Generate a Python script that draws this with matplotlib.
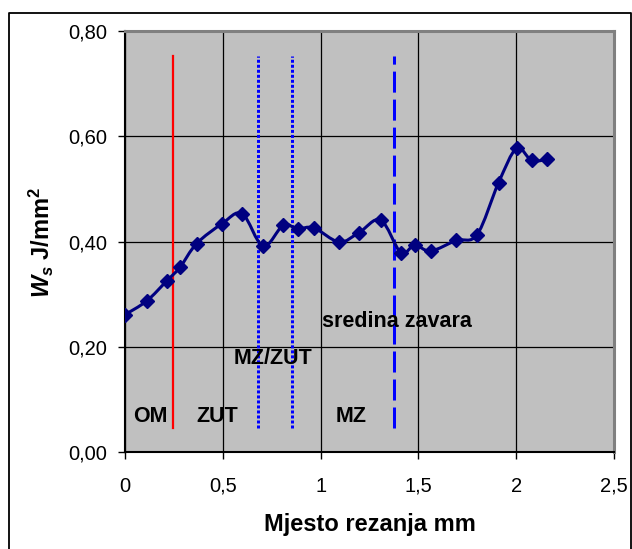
import matplotlib
matplotlib.use("Agg")
import matplotlib.pyplot as plt
from matplotlib.path import Path
from matplotlib.patches import PathPatch
from matplotlib.lines import Line2D
import numpy as np

plt.rcParams['font.family'] = ['Liberation Sans', 'DejaVu Sans']
plt.rcParams['mathtext.fontset'] = 'custom'
plt.rcParams['mathtext.it'] = 'Liberation Sans:italic:bold'
plt.rcParams['mathtext.rm'] = 'Liberation Sans:bold'
plt.rcParams['mathtext.bf'] = 'Liberation Sans:bold'

# data
x_pos = [0.0, 0.111, 0.213, 0.281, 0.366, 0.497, 0.599, 0.706, 0.809, 0.882, 0.965,
         1.095, 1.197, 1.307, 1.410, 1.481, 1.563, 1.694, 1.800, 1.910, 2.002, 2.079, 2.160]
ws = [0.261, 0.287, 0.325, 0.351, 0.396, 0.434, 0.453, 0.391, 0.431, 0.424, 0.426,
      0.399, 0.417, 0.441, 0.379, 0.393, 0.382, 0.402, 0.413, 0.512, 0.577, 0.554, 0.556]

boundary_om_zut = 0.245
boundary_mz_zut = [0.681, 0.855]
boundary_center = 1.376
line_ymin, line_ymax = 0.045, 0.753

zone_labels = ["OM", "ZUT", "MZ", "MZ/ZUT", "sredina zavara"]
zone_label_x = [0.128, 0.47, 1.158, 0.759, 1.389]
zone_label_y = [0.068, 0.068, 0.068, 0.178, 0.248]

x_ticks = [0, 0.5, 1, 1.5, 2, 2.5]
x_tick_labels = ["0", "0,5", "1", "1,5", "2", "2,5"]
y_ticks = [0.0, 0.2, 0.4, 0.6, 0.8]
y_tick_labels = ["0,00", "0,20", "0,40", "0,60", "0,80"]

W, H = 632, 549
fig = plt.figure(figsize=(W / 100, H / 100), dpi=100)
ax = fig.add_axes([125 / W, 1 - 452 / H, (614 - 125) / W, (452 - 31) / H])

# outer border (left, top, right; bottom runs off the canvas)
fig.add_artist(Line2D([8.5 / W, 8.5 / W, 630.5 / W, 630.5 / W],
                      [-0.01, 1 - 12.5 / H, 1 - 12.5 / H, -0.01],
                      transform=fig.transFigure, color='black', linewidth=1.3))

ax.set_facecolor('#C0C0C0')
ax.set_xlim(0, 2.5)
ax.set_ylim(0, 0.8)
ax.set_xticks(x_ticks)
ax.set_xticklabels(x_tick_labels, fontsize=14.5)
ax.set_yticks(y_ticks)
ax.set_yticklabels(y_tick_labels, fontsize=14.5)
ax.tick_params(axis='y', direction='out', length=5, width=1, color='black', pad=8)
ax.tick_params(axis='x', direction='out', length=5, width=1, color='black', pad=13)
ax.grid(True, color='black', linewidth=0.9)
ax.set_axisbelow(True)
for s in ['top', 'right']:
    ax.spines[s].set_color('#808080')
    ax.spines[s].set_linewidth(2.2)
for s in ['left', 'bottom']:
    ax.spines[s].set_color('black')
    ax.spines[s].set_linewidth(1.5)

# smoothed line (Bezier through the data points)
xs = np.array(x_pos)
ys = np.array(ws)
verts = [(xs[0], ys[0])]
codes = [Path.MOVETO]
n = len(xs)
for i in range(n - 1):
    p0 = np.array([xs[max(i - 1, 0)], ys[max(i - 1, 0)]])
    p1 = np.array([xs[i], ys[i]])
    p2 = np.array([xs[i + 1], ys[i + 1]])
    p3 = np.array([xs[min(i + 2, n - 1)], ys[min(i + 2, n - 1)]])
    c1 = p1 + (p2 - p0) / 6
    c2 = p2 - (p3 - p1) / 6
    verts += [tuple(c1), tuple(c2), tuple(p2)]
    codes += [Path.CURVE4] * 3
ax.add_patch(PathPatch(Path(verts, codes), facecolor='none', edgecolor='#000080',
                       linewidth=2.2, zorder=3))
ax.plot(x_pos, ws, linestyle='none', marker='D', markersize=7, color='#000080', zorder=4)

# boundaries
ax.plot([boundary_om_zut] * 2, [line_ymin, line_ymax], color='#FF0000', linewidth=1.6, zorder=2)
for b in boundary_mz_zut:
    ax.plot([b] * 2, [line_ymin, line_ymax], color='#0000FF', linewidth=2.16,
            linestyle=(0, (1, 0.67)), dash_capstyle='butt', zorder=2)
ax.plot([boundary_center] * 2, [line_ymin, line_ymax], color='#0000FF', linewidth=2.16,
        linestyle=(0, (7, 2.33)), dash_capstyle='butt', zorder=2)

for lab, lx, ly in zip(zone_labels, zone_label_x, zone_label_y):
    ax.text(lx, ly, lab, fontsize=15.5, fontweight='bold', ha='center', va='center', zorder=5)

fig.text(370 / W, 1 - 531.5 / H, "Mjesto rezanja mm", fontsize=17, fontweight='bold',
         ha='center', va='baseline')
fig.text(41.5 / W, 1 - 242.5 / H, r"$W_s$ J/mm$^2$", rotation=90,
         fontsize=17, fontweight='bold', ha='center', va='center')

fig.savefig("out.png", dpi=100)
